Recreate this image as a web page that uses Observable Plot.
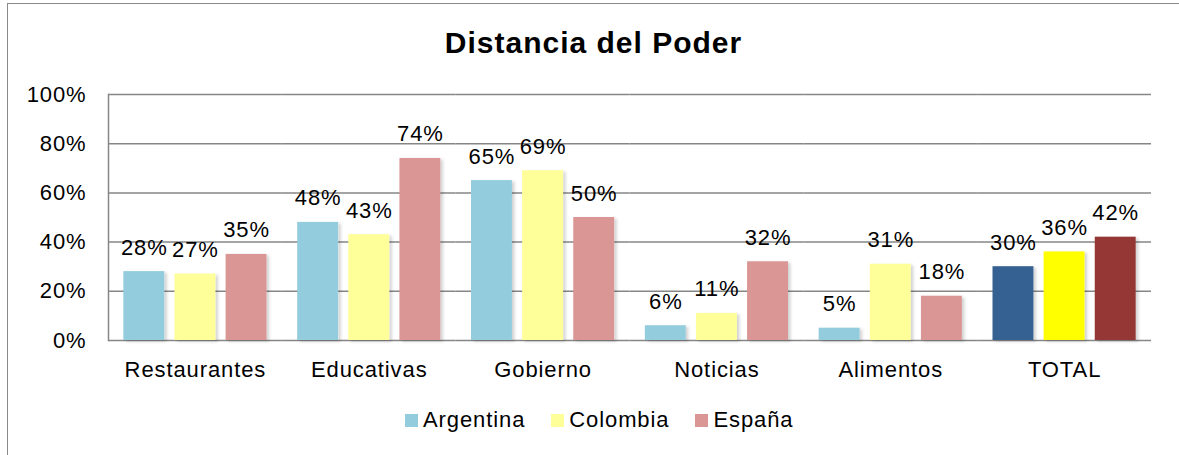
<!DOCTYPE html>
<html>
<head>
<meta charset="utf-8">
<script src="https://cdn.jsdelivr.net/npm/d3@7"></script>
<script src="https://cdn.jsdelivr.net/npm/@observablehq/plot@0.6"></script>
<style>
  body { margin: 0; background: #fff; font-family: "Liberation Sans", Arial, sans-serif; }
  #wrap { position: relative; width: 1179px; height: 455px; overflow: hidden; }
  #border { position: absolute; left: 7px; top: 3px; right: -10px; bottom: -10px; border-left: 1.5px solid #8a8a8a; border-top: 1.5px solid #8a8a8a; }
  #title { position: absolute; left: 0; width: 1187px; top: 29px; text-align: center; font-size: 30px; line-height: 28px; font-weight: bold; letter-spacing: 1px; color: #000; }
  #chart { position: absolute; left: 0; top: 0; }
  #legend { position: absolute; left: 405px; top: 408px; display: flex; align-items: center; font-size: 22px; letter-spacing: 0.9px; line-height: 24px; color: #000; }
  .item { display: flex; align-items: center; margin-right: 26px; }
  .sw { width: 13px; height: 13px; margin-right: 5px; }
</style>
</head>
<body>
<div id="wrap">
  <div id="border"></div>
  <div id="title">Distancia del Poder</div>
  <div id="chart"></div>
  <div id="legend"></div>
</div>
<script>
const categories = ["Restaurantes", "Educativas", "Gobierno", "Noticias", "Alimentos", "TOTAL"];
const series = ["Argentina", "Colombia", "España"];
const argentina = [28, 48, 65, 6, 5, 30];
const colombia = [27, 43, 69, 11, 31, 36];
const espana = [35, 74, 50, 32, 18, 42];
const yTicks = [0, 20, 40, 60, 80, 100];

const seriesColors = {"Argentina": "#93CDDD", "Colombia": "#FFFF99", "España": "#D99694"};
const totalColors = {"Argentina": "#366092", "Colombia": "#FFFF00", "España": "#953735"};

const valuesBySeries = {"Argentina": argentina, "Colombia": colombia, "España": espana};
const data = [];
categories.forEach((cat, i) => {
  series.forEach(s => data.push({cat, series: s, value: valuesBySeries[s][i]}));
});

const plot = Plot.plot({
  width: 1179,
  height: 455,
  marginLeft: 108,
  marginRight: 28,
  marginTop: 94,
  marginBottom: 115,
  style: {fontFamily: "'Liberation Sans', Arial, sans-serif", fontSize: "22px", letterSpacing: "0.9px", color: "#000", background: "transparent", overflow: "visible"},
  fx: {domain: categories, padding: 0, round: false, label: null, tickSize: 0, tickPadding: 21, axis: "bottom"},
  x: {domain: series, paddingInner: 0.2, paddingOuter: 0.3, round: false, axis: null},
  y: {domain: [0, 100], ticks: yTicks, tickFormat: d => d + "%", tickSize: 0, tickPadding: 22, label: null},
  color: {type: "identity"},
  marks: [
    Plot.ruleY(yTicks, {stroke: "#868686", strokeWidth: 1.5}),
    Plot.frame({anchor: "left", stroke: "#868686", strokeWidth: 1.5, fx: () => categories[0]}),
    Plot.barY(data, {fx: "cat", x: "series", y: "value", fill: d => d.cat === "TOTAL" ? totalColors[d.series] : seriesColors[d.series]}),
    Plot.text(data, {fx: "cat", x: "series", y: "value", text: d => d.value + "%", lineAnchor: "bottom", dy: -17, fill: "#000"})
  ]
});
document.getElementById("chart").appendChild(plot);

// soft shadow on bars (styling)
const ns = "http://www.w3.org/2000/svg";
const defs = document.createElementNS(ns, "defs");
defs.innerHTML = '<filter id="shadow" x="-20%" y="-20%" width="150%" height="150%"><feDropShadow dx="2.5" dy="1.5" stdDeviation="1.5" flood-color="#000" flood-opacity="0.18"/></filter>';
plot.insertBefore(defs, plot.firstChild);
plot.querySelectorAll('g[aria-label="bar"] rect').forEach(r => r.setAttribute("filter", "url(#shadow)"));

const legend = document.getElementById("legend");
series.forEach(s => {
  const item = document.createElement("div");
  item.className = "item";
  const sw = document.createElement("div");
  sw.className = "sw";
  sw.style.background = seriesColors[s];
  const t = document.createElement("span");
  t.textContent = s;
  item.appendChild(sw);
  item.appendChild(t);
  legend.appendChild(item);
});
</script>
</body>
</html>
